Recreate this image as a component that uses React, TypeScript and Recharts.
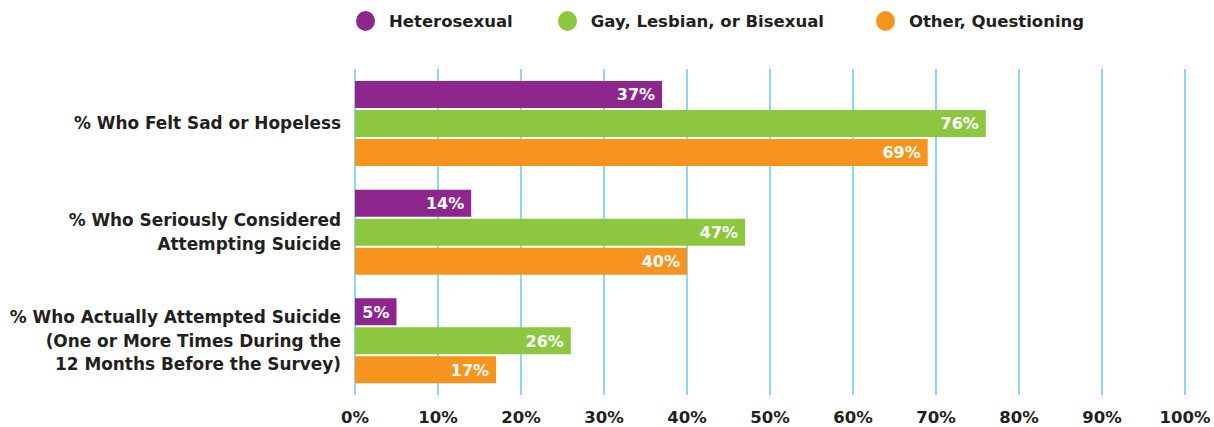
import { Bar, BarChart, CartesianGrid, LabelList, Legend, XAxis, YAxis } from "recharts";

// Survey categories, one entry per y-axis row (each inner array = label lines).
const categories = [
  ["% Who Felt Sad or Hopeless"],
  ["% Who Seriously Considered", "Attempting Suicide"],
  ["% Who Actually Attempted Suicide", "(One or More Times During the", "12 Months Before the Survey)"],
];

const heterosexual = [37, 14, 5];
const gayLesbianBi = [76, 47, 26];
const otherQuestioning = [69, 40, 17];

const xTicks = [0, 10, 20, 30, 40, 50, 60, 70, 80, 90, 100];

const SERIES = [
  { key: "het", name: "Heterosexual", color: "#8E278D" },
  { key: "glb", name: "Gay, Lesbian, or Bisexual", color: "#8DC63F" },
  { key: "oq", name: "Other, Questioning", color: "#F7941E" },
];

const FONT = "'DejaVu Sans', sans-serif";
const INK = "#231F20";
const GRID = "#5CC6F0";

const data = categories.map((lines, i) => ({
  name: lines.join("\n"),
  het: heterosexual[i],
  glb: gayLesbianBi[i],
  oq: otherQuestioning[i],
}));

function CategoryTick(props: any) {
  const { x, y, payload } = props;
  const lines: string[] = String(payload.value).split("\n");
  const lh = 23.5;
  const top = y - ((lines.length - 1) * lh) / 2;
  return (
    <text x={x} y={top} textAnchor="end" fill={INK} fontFamily={FONT} fontWeight={700} fontSize={16.9}>
      {lines.map((l, i) => (
        <tspan key={i} x={x} y={top + i * lh} dy="0.36em">
          {l}
        </tspan>
      ))}
    </text>
  );
}

function LegendRow() {
  return (
    <div style={{ display: "flex", alignItems: "center", fontFamily: FONT, fontWeight: 700, fontSize: 16.5, color: INK }}>
      {SERIES.map((s, i) => (
        <div key={s.key} style={{ display: "flex", alignItems: "center", marginRight: i === 0 ? 45 : i === 1 ? 52 : 0 }}>
          <span
            aria-hidden
            style={{ width: 19, height: 20, borderRadius: "50%", background: s.color, display: "inline-block", marginRight: 14 }}
          />
          <span>{s.name}</span>
        </div>
      ))}
    </div>
  );
}

export default function App() {
  return (
    <div style={{ position: "fixed", left: 0, top: 0, width: 1214, height: 427, background: "#fff" }}>
      <BarChart
        width={1214}
        height={427}
        data={data}
        layout="vertical"
        margin={{ top: 49, right: 29, bottom: 0, left: 0 }}
        barGap={2}
        barCategoryGap={12}
      >
        <CartesianGrid horizontal={false} stroke={GRID} strokeWidth={1.4} />
        <XAxis
          type="number"
          domain={[0, 100]}
          ticks={xTicks}
          tickFormatter={(v) => `${v}%`}
          axisLine={false}
          tickLine={false}
          height={32}
          tickMargin={10}
          interval={0}
          tick={{ fill: INK, fontFamily: FONT, fontWeight: 700, fontSize: 16.5 }}
        />
        <YAxis
          type="category"
          dataKey="name"
          width={355}
          axisLine={false}
          tickLine={false}
          tickSize={0}
          tickMargin={14}
          tick={<CategoryTick />}
        />
        <Legend verticalAlign="top" content={<LegendRow />} wrapperStyle={{ top: 11, left: 356, width: 800 }} />
        {SERIES.map((s) => (
          <Bar key={s.key} dataKey={s.key} name={s.name} fill={s.color} barSize={27} isAnimationActive={false}>
            <LabelList
              dataKey={s.key}
              position="insideRight"
              offset={7}
              formatter={(v: any) => `${v}%`}
              fill="#fff"
              fontFamily={FONT}
              fontWeight={700}
              fontSize={16}
            />
          </Bar>
        ))}
      </BarChart>
    </div>
  );
}
